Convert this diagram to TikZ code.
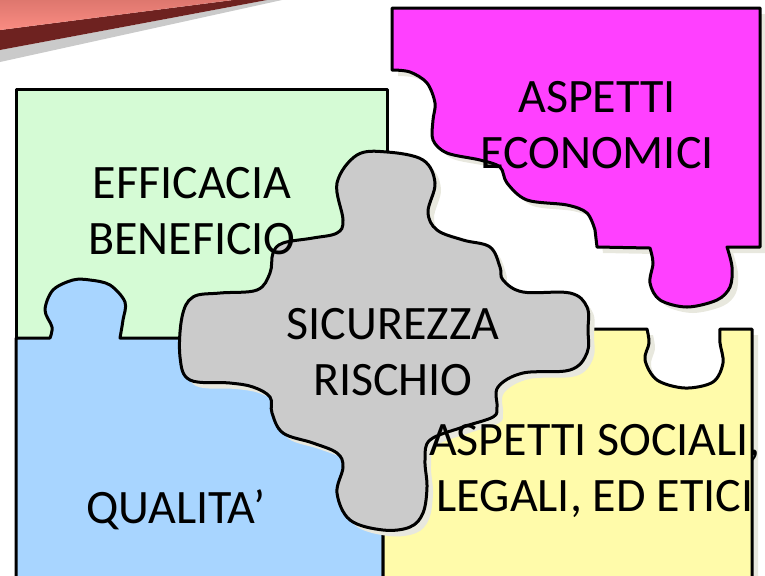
\documentclass[tikz,border=0pt]{standalone}
\usepackage{fontspec}
\setmainfont{Carlito}
\usetikzlibrary{shadows}
\definecolor{effgreen}{RGB}{213,251,213}
\definecolor{qualblue}{RGB}{168,213,255}
\definecolor{socyellow}{RGB}{255,251,170}
\definecolor{ecomagenta}{RGB}{255,64,255}
\definecolor{riskgrey}{RGB}{203,203,203}
\definecolor{ribbondark}{RGB}{110,34,32}
\definecolor{ribbonlight}{RGB}{250,140,130}
\definecolor{pieceshadow}{RGB}{232,232,222}

\begin{document}
\begin{tikzpicture}[x=0.5pt, y=-0.5pt,
  piece/.style={draw=black, line width=1.5pt, line join=round},
  shadowed/.style={drop shadow={shadow xshift=3pt, shadow yshift=-3pt, opacity=1, fill=pieceshadow}},
  wavy/.style={smooth, tension=0.55},
  lbl/.style={font=\fontsize{24}{28}\selectfont, align=center, inner sep=0pt}]
\useasboundingbox (0,0) rectangle (765,575);

% ribbon top left
\fill[black!35, opacity=0.6] (0,50) -- (267,0) -- (282,0) -- (0,62) -- cycle;
\fill[ribbondark] (0,30) -- (233,0) -- (267,0) -- (0,50) -- cycle;
\shade[top color=ribbonlight!80!ribbondark, bottom color=ribbonlight] (0,0) -- (233,0) -- (0,30) -- cycle;

% puzzle pieces
\draw[piece, fill=effgreen] (16,338) -- (16,89) -- (387,89) -- (387,338) -- cycle;
\draw[piece, fill=qualblue] (16,580) -- (16,338) -- plot[wavy] coordinates {(50,338) (52,327) (45,310) (53,290) (73,280) (90,280) (110,285) (125,302) (123,320) (120,338)} -- (383,338) -- (383,580) -- cycle;
\draw[piece, fill=socyellow, shadowed] (383,580) -- (383,329) -- plot[wavy] coordinates {(647,329) (649,343) (645,360) (657,380) (685,388) (713,382) (723,363) (720,343) (720,329)} -- (752,329) -- (752,580) -- cycle;
\draw[piece, fill=ecomagenta, shadowed] (392,8) -- (760,8) -- (760,247) -- plot[wavy] coordinates {(727,247) (732,267) (730,287) (717,300) (687,307) (660,300) (650,283) (653,263) (650,248)} -- (597,247) -- plot[wavy] coordinates {(595,230) (587,213) (567,205) (527,200) (507,183) (500,167) (480,160) (447,153) (433,140) (433,120) (435,103) (427,83) (410,72) (392,70)} -- cycle;
\draw[piece, fill=riskgrey, shadowed] plot[smooth cycle, tension=0.6] coordinates {
  (343,220) (337,183) (357,155) (387,152) (423,160) (435,183) (428,212)
  (437,230) (463,240) (490,247) (500,267) (503,280) (523,292) (570,293)
  (587,307) (588,330) (587,353) (570,370) (523,373) (498,387) (497,407)
  (493,417) (463,427) (430,440) (425,460) (427,487) (423,513) (410,527)
  (383,530) (350,520) (337,493) (343,467) (337,453) (313,443) (283,433)
  (272,413) (270,397) (253,387) (230,383) (190,380) (180,357) (182,317)
  (193,297) (220,293) (257,290) (270,273) (273,253) (283,243) (313,238)
  (337,233)};

% labels
\node[lbl] (eff) at (192,211) {EFFICACIA\\BENEFICIO};
\node[lbl] (eco) at (597,125) {ASPETTI\\ECONOMICI};
\node[lbl] (sic) at (393,352) {SICUREZZA\\RISCHIO};
\node[lbl] (soc) at (595,471) {ASPETTI SOCIALI,\\LEGALI, ED ETICI};
\node[lbl, anchor=base] (qual) at (176,523) {QUALITA’};
\end{tikzpicture}
\end{document}
